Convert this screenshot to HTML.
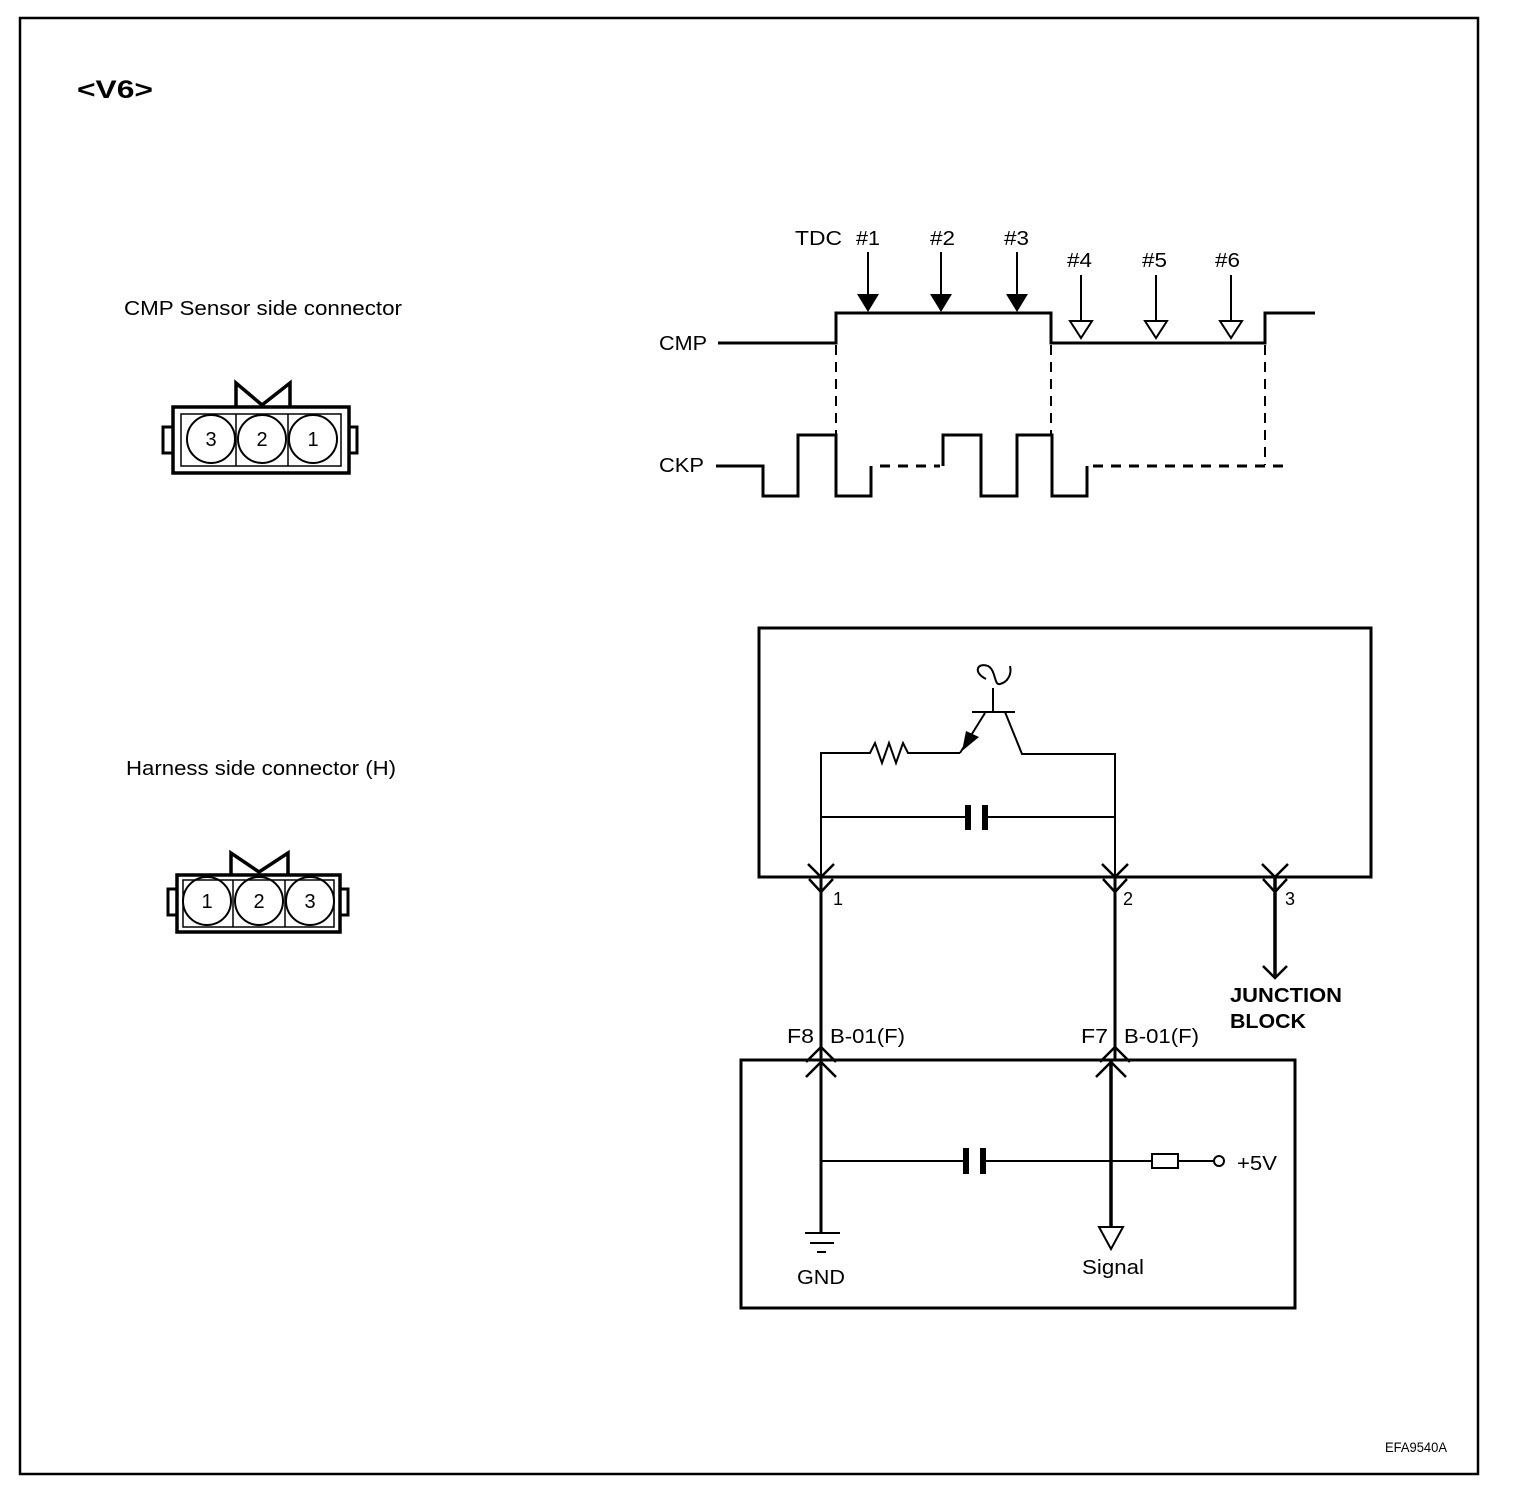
<!DOCTYPE html>
<html><head><meta charset="utf-8"><style>
html,body{margin:0;padding:0;background:#fff;}
svg{display:block;}
text{font-family:"Liberation Sans",Arial,sans-serif;fill:#000;}
</style></head><body>
<svg width="1520" height="1494" viewBox="0 0 1520 1494" xmlns="http://www.w3.org/2000/svg">
<rect x="20" y="18" width="1458" height="1456" fill="none" stroke="#000" stroke-width="2.5"/>
<text x="77" y="98" font-size="25" font-weight="bold" textLength="76" lengthAdjust="spacingAndGlyphs">&lt;V6&gt;</text>

<text x="124" y="315" font-size="20" textLength="278" lengthAdjust="spacingAndGlyphs">CMP Sensor side connector</text>
<text x="126" y="775" font-size="20" textLength="270" lengthAdjust="spacingAndGlyphs">Harness side connector (H)</text>
<text x="1385" y="1452" font-size="14" textLength="62" lengthAdjust="spacingAndGlyphs">EFA9540A</text>

<!-- CMP connector -->
<g stroke="#000" fill="none">
<rect x="173" y="407" width="176" height="66" stroke-width="3.5"/>
<rect x="181" y="414" width="160" height="52" stroke-width="1.5"/>
<rect x="163" y="427" width="10" height="26" stroke-width="3"/>
<rect x="349" y="427" width="8" height="26" stroke-width="3"/>
<polyline points="236,407 236,383 262,405 290,383 290,407" stroke-width="3.5"/>
<line x1="236" y1="414" x2="236" y2="466" stroke-width="1.5"/>
<line x1="288" y1="414" x2="288" y2="466" stroke-width="1.5"/>
<circle cx="211" cy="439" r="24" stroke-width="2"/>
<circle cx="262" cy="439" r="24" stroke-width="2"/>
<circle cx="313" cy="439" r="24" stroke-width="2"/>
</g>
<text x="211" y="446" font-size="20" text-anchor="middle">3</text>
<text x="262" y="446" font-size="20" text-anchor="middle">2</text>
<text x="313" y="446" font-size="20" text-anchor="middle">1</text>

<!-- Harness connector -->
<g stroke="#000" fill="none">
<rect x="177" y="875" width="163" height="57" stroke-width="3.5"/>
<rect x="183" y="880" width="151" height="47" stroke-width="1.5"/>
<rect x="168" y="889" width="9" height="26" stroke-width="3"/>
<rect x="340" y="889" width="8" height="26" stroke-width="3"/>
<polyline points="231,875 231,853 259,872 288,853 288,875" stroke-width="3.5"/>
<line x1="233" y1="880" x2="233" y2="927" stroke-width="1.5"/>
<line x1="285" y1="880" x2="285" y2="927" stroke-width="1.5"/>
<circle cx="207" cy="901" r="24" stroke-width="2"/>
<circle cx="259" cy="901" r="24" stroke-width="2"/>
<circle cx="310" cy="901" r="24" stroke-width="2"/>
</g>
<text x="207" y="908" font-size="20" text-anchor="middle">1</text>
<text x="259" y="908" font-size="20" text-anchor="middle">2</text>
<text x="310" y="908" font-size="20" text-anchor="middle">3</text>

<!-- Waveforms -->
<text x="795" y="245" font-size="20" textLength="47" lengthAdjust="spacingAndGlyphs">TDC</text>
<text x="856" y="245" font-size="20" textLength="24" lengthAdjust="spacingAndGlyphs">#1</text>
<text x="930" y="245" font-size="20" textLength="25" lengthAdjust="spacingAndGlyphs">#2</text>
<text x="1004" y="245" font-size="20" textLength="25" lengthAdjust="spacingAndGlyphs">#3</text>
<text x="1067" y="267" font-size="20" textLength="25" lengthAdjust="spacingAndGlyphs">#4</text>
<text x="1142" y="267" font-size="20" textLength="25" lengthAdjust="spacingAndGlyphs">#5</text>
<text x="1215" y="267" font-size="20" textLength="25" lengthAdjust="spacingAndGlyphs">#6</text>
<text x="659" y="350" font-size="20" textLength="48" lengthAdjust="spacingAndGlyphs">CMP</text>
<text x="659" y="472" font-size="20" textLength="45" lengthAdjust="spacingAndGlyphs">CKP</text>
<g stroke="#000" fill="none" stroke-width="3">
<polyline points="718,343 836,343 836,313 1051,313 1051,343 1265,343 1265,313 1315,313"/>
<polyline points="716,466 763,466 763,496 798,496 798,435 836,435 836,496 871,496 871,466"/>
<polyline points="943,466 943,435 981,435 981,496 1017,496 1017,435 1052,435 1052,496 1087,496 1087,466"/>
</g>
<g stroke="#000" fill="none" stroke-width="2" stroke-dasharray="10,7">
<line x1="836" y1="345" x2="836" y2="435"/>
<line x1="1051" y1="345" x2="1051" y2="435"/>
<line x1="1265" y1="345" x2="1265" y2="465"/>
</g>
<g stroke="#000" fill="none" stroke-width="3" stroke-dasharray="10,8">
<line x1="880" y1="466" x2="940" y2="466"/>
<line x1="1093" y1="466" x2="1290" y2="466"/>
</g>
<g stroke="#000" stroke-width="2">
<line x1="868" y1="252" x2="868" y2="296"/>
<line x1="941" y1="252" x2="941" y2="296"/>
<line x1="1017" y1="252" x2="1017" y2="296"/>
<line x1="1081" y1="275" x2="1081" y2="322"/>
<line x1="1156" y1="275" x2="1156" y2="322"/>
<line x1="1231" y1="275" x2="1231" y2="322"/>
</g>
<g fill="#000">
<polygon points="857,294 879,294 868,312"/>
<polygon points="930,294 952,294 941,312"/>
<polygon points="1006,294 1028,294 1017,312"/>
</g>
<g fill="#fff" stroke="#000" stroke-width="2">
<polygon points="1070,321 1092,321 1081,338"/>
<polygon points="1145,321 1167,321 1156,338"/>
<polygon points="1220,321 1242,321 1231,338"/>
</g>

<!-- Sensor box -->
<rect x="759" y="628" width="612" height="249" fill="none" stroke="#000" stroke-width="3"/>
<g stroke="#000" fill="none" stroke-width="2">
<polyline points="821,877 821,753 870,753 875,743 882,763 889,743 896,763 903,743 908,753 960,753"/>
<line x1="960" y1="753" x2="985" y2="713"/>
<line x1="972" y1="712" x2="1015" y2="712"/>
<polyline points="1005,712 1022,754 1115,754 1115,877"/>
<line x1="993" y1="712" x2="993" y2="688"/>
<path d="M 986,679 C 972,672 978,662 988,666 C 996,670 994,686 1000,684 C 1008,682 1012,674 1010,666"/>
<line x1="821" y1="817" x2="966" y2="817"/>
<line x1="988" y1="817" x2="1115" y2="817"/>
</g>
<polygon points="962,751 966,731 979,737" fill="#000"/>
<rect x="965" y="805" width="6" height="25" fill="#000"/>
<rect x="982" y="805" width="6" height="25" fill="#000"/>

<!-- sensor terminals -->
<g stroke="#000" fill="none" stroke-width="2.5">
<polyline points="808,864 821,877 834,864"/>
<polyline points="809,879 821,892 833,879"/>
<polyline points="1102,864 1115,877 1128,864"/>
<polyline points="1103,879 1115,892 1127,879"/>
<polyline points="1262,864 1275,877 1288,864"/>
<polyline points="1263,879 1275,892 1287,879"/>
<line x1="821" y1="877" x2="821" y2="1060" stroke-width="3"/>
<line x1="1115" y1="877" x2="1115" y2="1060" stroke-width="3"/>
<line x1="1275" y1="877" x2="1275" y2="976" stroke-width="3.5"/>
<polyline points="1263,966 1275,978 1287,966"/>
</g>
<text x="833" y="905" font-size="18">1</text>
<text x="1123" y="905" font-size="18">2</text>
<text x="1285" y="905" font-size="18">3</text>
<text x="1230" y="1002" font-size="20" font-weight="bold" textLength="112" lengthAdjust="spacingAndGlyphs">JUNCTION</text>
<text x="1230" y="1028" font-size="20" font-weight="bold" textLength="76" lengthAdjust="spacingAndGlyphs">BLOCK</text>

<!-- ECU box -->
<rect x="741" y="1060" width="554" height="248" fill="none" stroke="#000" stroke-width="3"/>
<text x="787" y="1043" font-size="20" textLength="27" lengthAdjust="spacingAndGlyphs">F8</text>
<text x="830" y="1043" font-size="20" textLength="75" lengthAdjust="spacingAndGlyphs">B-01(F)</text>
<text x="1081" y="1043" font-size="20" textLength="27" lengthAdjust="spacingAndGlyphs">F7</text>
<text x="1124" y="1043" font-size="20" textLength="75" lengthAdjust="spacingAndGlyphs">B-01(F)</text>
<g stroke="#000" fill="none" stroke-width="2.5">
<polyline points="806,1062 821,1047 836,1062"/>
<polyline points="806,1077 821,1062 836,1077"/>
<polyline points="1100,1062 1115,1047 1130,1062"/>
<polyline points="1096,1077 1111,1062 1126,1077"/>
<line x1="821" y1="1060" x2="821" y2="1233" stroke-width="3"/>
<line x1="1111" y1="1060" x2="1111" y2="1226" stroke-width="3.5"/>
<line x1="805" y1="1233" x2="840" y2="1233" stroke-width="2"/>
<line x1="810" y1="1243" x2="834" y2="1243" stroke-width="2"/>
<line x1="817" y1="1252" x2="826" y2="1252" stroke-width="2"/>
<line x1="821" y1="1161" x2="964" y2="1161" stroke-width="2"/>
<line x1="984" y1="1161" x2="1152" y2="1161" stroke-width="2"/>
<rect x="1152" y="1154" width="26" height="14" stroke-width="2"/>
<line x1="1178" y1="1161" x2="1214" y2="1161" stroke-width="2"/>
<circle cx="1219" cy="1161" r="5" stroke-width="2"/>
<polygon points="1099,1227 1123,1227 1111,1249" stroke-width="2" fill="#fff"/>
</g>
<rect x="963" y="1148" width="6" height="26" fill="#000"/>
<rect x="980" y="1148" width="6" height="26" fill="#000"/>
<text x="1237" y="1170" font-size="20" textLength="40" lengthAdjust="spacingAndGlyphs">+5V</text>
<text x="797" y="1284" font-size="20" textLength="48" lengthAdjust="spacingAndGlyphs">GND</text>
<text x="1082" y="1274" font-size="20" textLength="62" lengthAdjust="spacingAndGlyphs">Signal</text>
</svg>
</body></html>
